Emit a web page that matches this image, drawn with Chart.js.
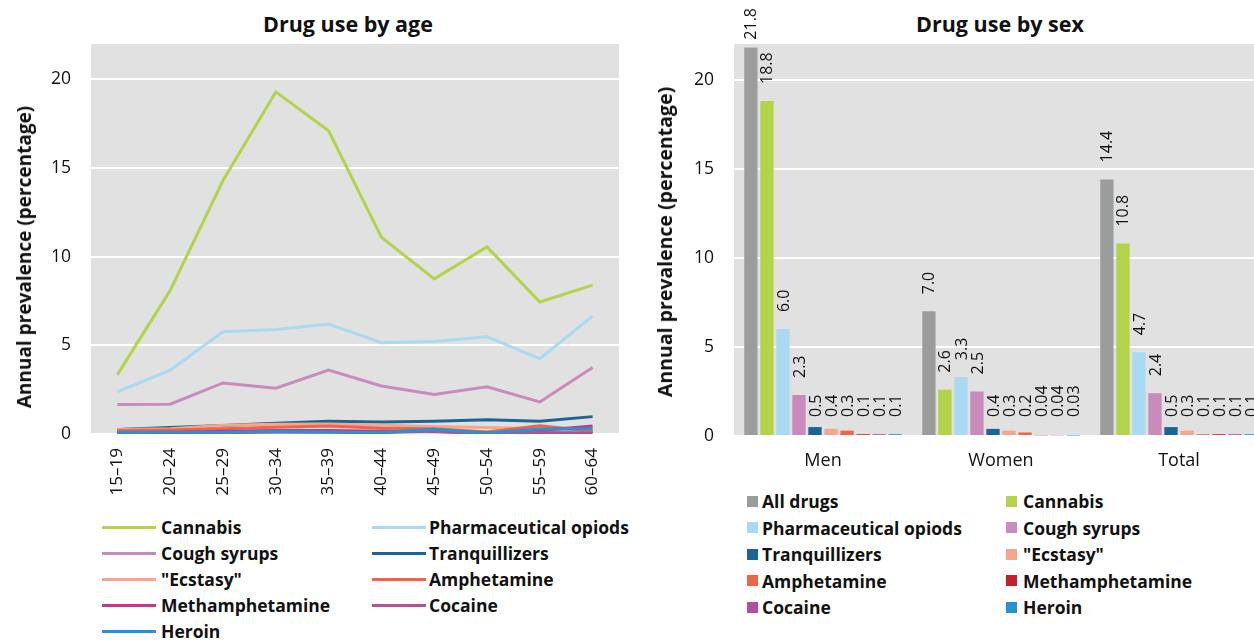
<!DOCTYPE html>
<html lang="en">
<head>
    <meta charset="UTF-8">
    <title>Drug use by age and sex</title>
    <script src="https://cdn.jsdelivr.net/npm/chart.js@4.4.2/dist/chart.umd.min.js"></script>
    <style>
        body {
            margin: 0;
            width: 1254px;
            height: 640px;
            overflow: hidden;
            position: relative;
            background: #fff;
            font-family: "Open Sans", sans-serif;
            color: #111;
        }
        .box { position: absolute; }
        .chart-title {
            position: absolute;
            font-weight: bold;
            font-size: 21.5px;
            transform: translateX(-50%);
            white-space: nowrap;
            line-height: 26px;
        }
        .axis-title {
            position: absolute;
            font-weight: bold;
            white-space: nowrap;
            line-height: 22px;
            transform: translate(-50%, -50%) rotate(-90deg);
        }
        .legend-item {
            position: absolute;
            font-weight: bold;
            font-size: 17.5px;
            white-space: nowrap;
            line-height: 22px;
            transform: translateY(-50%);
        }
        .swatch { position: absolute; }
    </style>
</head>
<body>
    <div class="chart-title" style="left:348px; top:11px;">Drug use by age</div>
    <div class="chart-title" style="left:1000px; top:11px;">Drug use by sex</div>

    <div class="box" style="left:0; top:0; width:640px; height:500px;">
        <canvas id="ageChart" width="640" height="500"></canvas>
    </div>
    <div class="box" style="left:630px; top:0; width:660px; height:480px;">
        <canvas id="sexChart" width="660" height="480"></canvas>
    </div>

    <div class="axis-title" style="left:24px; top:257px; font-size:19px;">Annual prevalence (percentage)</div>
    <div class="axis-title" style="left:665px; top:242px; font-size:19.5px;">Annual prevalence (percentage)</div>

    <div id="ageLegend"></div>
    <div id="sexLegend"></div>

    <script>
        // --- Data: drug use by age ---
        const ageGroups = ['15–19', '20–24', '25–29', '30–34', '35–39', '40–44', '45–49', '50–54', '55–59', '60–64'];
        const ageCannabis = [3.35, 8.1, 14.3, 19.3, 17.1, 11.1, 8.75, 10.55, 7.45, 8.4];
        const ageOpioids = [2.37, 3.6, 5.77, 5.9, 6.2, 5.15, 5.22, 5.49, 4.25, 6.65];
        const ageCough = [1.67, 1.68, 2.88, 2.58, 3.61, 2.71, 2.23, 2.66, 1.81, 3.75];
        const ageTranq = [0.26, 0.36, 0.48, 0.6, 0.72, 0.68, 0.72, 0.8, 0.72, 0.98];
        const ageEcstasy = [0.25, 0.3, 0.5, 0.55, 0.56, 0.5, 0.42, 0.36, 0.3, 0.12];
        const ageAmph = [0.2, 0.22, 0.3, 0.38, 0.45, 0.32, 0.3, 0.12, 0.47, 0.15];
        const ageMeth = [0.08, 0.1, 0.15, 0.2, 0.2, 0.15, 0.12, 0.05, 0.2, 0.45];
        const ageCocaine = [0.05, 0.05, 0.08, 0.1, 0.1, 0.08, 0.15, 0.05, 0.08, 0.05];
        const ageHeroin = [0.1, 0.08, 0.1, 0.15, 0.1, 0.08, 0.27, 0.05, 0.28, 0.3];

        // --- Data: drug use by sex ---
        const sexGroups = ['Men', 'Women', 'Total'];
        const sexAllDrugs = [21.8, 7.0, 14.4];
        const sexCannabis = [18.8, 2.6, 10.8];
        const sexOpioids = [6.0, 3.3, 4.7];
        const sexCough = [2.3, 2.5, 2.4];
        const sexTranq = [0.5, 0.4, 0.5];
        const sexEcstasy = [0.4, 0.3, 0.3];
        const sexAmph = [0.3, 0.2, 0.1];
        const sexMeth = [0.1, 0.04, 0.1];
        const sexCocaine = [0.1, 0.04, 0.1];
        const sexHeroin = [0.1, 0.03, 0.1];

        const yTicks = [0, 5, 10, 15, 20];
        const yMax = 22;

        const colors = {
            all: '#9b9d9d',
            cannabis: '#b3d34a',
            opioids: '#aad9f2',
            cough: '#c98bbb',
            tranq: '#1b6596',
            ecstasy: '#f6a68c',
            amph: '#ee6549',
            methLine: '#c93590',
            methBar: '#c2202b',
            cocaine: '#b1509e',
            heroin: '#2593d4'
        };

        const ageSeries = [
            { label: 'Cannabis', data: ageCannabis, color: colors.cannabis },
            { label: 'Pharmaceutical opiods', data: ageOpioids, color: colors.opioids },
            { label: 'Cough syrups', data: ageCough, color: colors.cough },
            { label: 'Tranquillizers', data: ageTranq, color: colors.tranq },
            { label: '"Ecstasy"', data: ageEcstasy, color: colors.ecstasy },
            { label: 'Amphetamine', data: ageAmph, color: colors.amph },
            { label: 'Methamphetamine', data: ageMeth, color: colors.methLine },
            { label: 'Cocaine', data: ageCocaine, color: colors.cocaine },
            { label: 'Heroin', data: ageHeroin, color: colors.heroin }
        ];

        const sexSeries = [
            { label: 'All drugs', data: sexAllDrugs, color: colors.all },
            { label: 'Cannabis', data: sexCannabis, color: colors.cannabis },
            { label: 'Pharmaceutical opiods', data: sexOpioids, color: colors.opioids },
            { label: 'Cough syrups', data: sexCough, color: colors.cough },
            { label: 'Tranquillizers', data: sexTranq, color: colors.tranq },
            { label: '"Ecstasy"', data: sexEcstasy, color: colors.ecstasy },
            { label: 'Amphetamine', data: sexAmph, color: colors.amph },
            { label: 'Methamphetamine', data: sexMeth, color: colors.methBar },
            { label: 'Cocaine', data: sexCocaine, color: colors.cocaine },
            { label: 'Heroin', data: sexHeroin, color: colors.heroin }
        ];

        // gray plot background
        const plotBackground = {
            id: 'plotBackground',
            beforeDraw(chart) {
                const { ctx, chartArea: a } = chart;
                ctx.save();
                ctx.fillStyle = '#e1e1e1';
                ctx.fillRect(a.left, a.top, a.right - a.left, a.bottom - a.top);
                ctx.restore();
            }
        };

        // rotated value labels above the bars
        const barLabels = {
            id: 'barLabels',
            afterDatasetsDraw(chart) {
                const ctx = chart.ctx;
                ctx.save();
                ctx.font = '16px "Open Sans"';
                ctx.fillStyle = '#111';
                ctx.textAlign = 'left';
                ctx.textBaseline = 'middle';
                chart.data.datasets.forEach((ds, i) => {
                    chart.getDatasetMeta(i).data.forEach((bar, j) => {
                        const v = ds.data[j];
                        const text = v < 0.1 ? v.toFixed(2) : v.toFixed(1);
                        const w = ctx.measureText(text).width;
                        let y = (bar.base - bar.y) < 17 ? bar.base - 18 : bar.y - 17;
                        y = Math.max(y, w + 8);
                        ctx.save();
                        ctx.translate(bar.x + 1, y);
                        ctx.rotate(-Math.PI / 2);
                        ctx.fillText(text, 0, 0);
                        ctx.restore();
                    });
                });
                ctx.restore();
            }
        };

        function yScale(width) {
            return {
                min: 0,
                max: yMax,
                afterBuildTicks: s => { s.ticks = yTicks.map(v => ({ value: v })); },
                afterFit: s => { s.width = width; },
                ticks: { font: { family: 'Open Sans', size: 17.5 }, color: '#111', padding: 20 },
                grid: { color: '#ffffff', lineWidth: 2, drawTicks: false },
                border: { display: false }
            };
        }

        new Chart(document.getElementById('ageChart'), {
            type: 'line',
            data: {
                labels: ageGroups,
                datasets: ageSeries.map((s, i) => ({
                    label: s.label,
                    data: s.data,
                    borderColor: s.color,
                    backgroundColor: s.color,
                    borderWidth: 3,
                    pointRadius: 0,
                    tension: 0,
                    order: ageSeries.length - i
                }))
            },
            options: {
                responsive: false,
                animation: false,
                layout: { padding: { top: 44, right: 21, left: 0, bottom: 0 } },
                plugins: { legend: { display: false }, tooltip: { enabled: false } },
                scales: {
                    x: {
                        offset: true,
                        afterFit: s => { s.height = 66; },
                        grid: { display: false },
                        border: { display: false },
                        ticks: {
                            font: { family: 'Open Sans', size: 17 },
                            color: '#111',
                            minRotation: 90,
                            maxRotation: 90,
                            padding: 6
                        }
                    },
                    y: yScale(91)
                }
            },
            plugins: [plotBackground]
        });

        new Chart(document.getElementById('sexChart'), {
            type: 'bar',
            data: {
                labels: sexGroups,
                datasets: sexSeries.map(s => ({
                    label: s.label,
                    data: s.data,
                    backgroundColor: s.color,
                    barPercentage: 0.83,
                    categoryPercentage: 0.9
                }))
            },
            options: {
                responsive: false,
                animation: false,
                layout: { padding: { top: 44, right: 22, left: 0, bottom: 0 } },
                plugins: { legend: { display: false }, tooltip: { enabled: false } },
                scales: {
                    x: {
                        afterFit: s => { s.height = 44; },
                        grid: { display: false },
                        border: { display: false },
                        ticks: { font: { family: 'Open Sans', size: 18 }, color: '#111', padding: 6 }
                    },
                    y: yScale(104)
                }
            },
            plugins: [plotBackground, barLabels]
        });

        // --- HTML legends (two columns, row by row) ---
        function buildLegend(target, series, cols, textCols, rowTop, rowStep, line) {
            const root = document.getElementById(target);
            series.forEach((s, i) => {
                const c = i % 2, r = Math.floor(i / 2);
                const cy = rowTop + r * rowStep;
                const sw = document.createElement('div');
                sw.className = 'swatch';
                sw.style.background = s.color;
                if (line) {
                    sw.style.left = cols[c] + 'px';
                    sw.style.top = (cy - 1.5) + 'px';
                    sw.style.width = '54px';
                    sw.style.height = '3px';
                } else {
                    sw.style.left = cols[c] + 'px';
                    sw.style.top = (cy - 5.5) + 'px';
                    sw.style.width = '11px';
                    sw.style.height = '11px';
                }
                root.appendChild(sw);
                const t = document.createElement('div');
                t.className = 'legend-item';
                t.style.left = textCols[c] + 'px';
                t.style.top = cy + 'px';
                t.textContent = s.label;
                root.appendChild(t);
            });
        }

        buildLegend('ageLegend', ageSeries, [102, 372], [161, 429], 527, 26, true);
        buildLegend('sexLegend', sexSeries, [747, 1006], [762, 1023], 501, 26.5, false);
    </script>
</body>
</html>
